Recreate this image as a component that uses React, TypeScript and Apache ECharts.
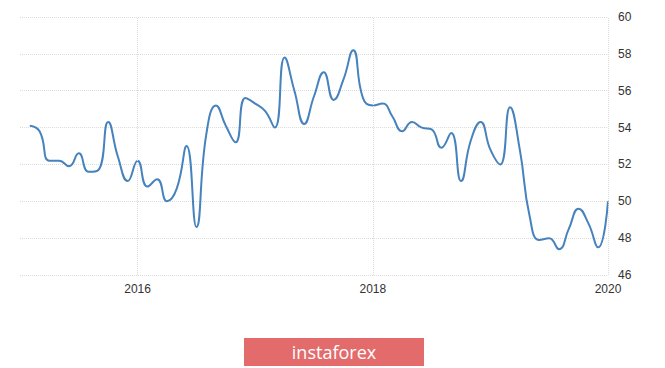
import React, { useEffect, useRef } from "react";
import * as echarts from "echarts";

const months: string[] = [
  "2015-01", "2015-02", "2015-03", "2015-04", "2015-05", "2015-06", "2015-07", "2015-08", "2015-09", "2015-10", "2015-11", "2015-12",
  "2016-01", "2016-02", "2016-03", "2016-04", "2016-05", "2016-06", "2016-07", "2016-08", "2016-09", "2016-10", "2016-11", "2016-12",
  "2017-01", "2017-02", "2017-03", "2017-04", "2017-05", "2017-06", "2017-07", "2017-08", "2017-09", "2017-10", "2017-11", "2017-12",
  "2018-01", "2018-02", "2018-03", "2018-04", "2018-05", "2018-06", "2018-07", "2018-08", "2018-09", "2018-10", "2018-11", "2018-12",
  "2019-01", "2019-02", "2019-03", "2019-04", "2019-05", "2019-06", "2019-07", "2019-08", "2019-09", "2019-10", "2019-11", "2019-12",
];

const values: number[] = [
  54.1, 53.8, 52.2, 52.2, 51.9, 52.6, 51.6, 51.7, 54.3, 52.4, 51.1, 52.2,
  50.8, 51.2, 50.0, 50.7, 53.0, 48.6, 53.6, 55.2, 54.1, 53.2, 55.6, 55.3,
  54.9, 54.0, 57.8, 56.0, 54.2, 55.7, 57.0, 55.5, 56.6, 58.2, 55.6, 55.2,
  55.3, 54.6, 53.8, 54.3, 54.0, 53.9, 52.9, 53.7, 51.1, 53.3, 54.3, 52.8,
  52.0, 55.1, 52.8, 49.2, 47.9, 48.0, 47.4, 48.5, 49.6, 48.8, 47.5, 50.0,
];

const yearTicks: { pos: number; label: string }[] = [
  { pos: 12, label: "2016" },
  { pos: 36, label: "2018" },
  { pos: 60, label: "2020" },
];

const yTicks = { min: 46, max: 60, step: 2 };
const bannerText = "instaforex";

// month-end position: months elapsed since 2015-01-01
function monthPos(m: string): number {
  const [y, mo] = m.split("-").map(Number);
  return (y - 2015) * 12 + mo;
}

export default function App() {
  const ref = useRef<HTMLDivElement>(null);

  useEffect(() => {
    if (!ref.current) return;
    const chart = echarts.init(ref.current, undefined, { renderer: "svg" });
    const data = months.map((m, i) => [monthPos(m), values[i]]);
    const gridColor = "#dcdcdc";
    const labelFont = '"Liberation Sans Narrow", "Liberation Sans", Arial, sans-serif';

    chart.setOption({
      animation: false,
      backgroundColor: "#ffffff",
      grid: {
        left: 20,
        right: 57,
        top: 17,
        bottom: 93,
        containLabel: false,
        outerBoundsMode: "none",
      },
      xAxis: {
        type: "value",
        min: 0,
        max: 60,
        interval: 12,
        axisLine: { show: false },
        axisTick: { show: false },
        splitLine: { show: false },
        axisLabel: {
          margin: 8,
          color: "#333333",
          fontSize: 12,
          fontFamily: labelFont,
          formatter: (v: number) => {
            const t = yearTicks.find((k) => k.pos === v);
            return t ? t.label : "";
          },
        },
      },
      yAxis: {
        type: "value",
        position: "right",
        min: yTicks.min,
        max: yTicks.max,
        interval: yTicks.step,
        axisLine: { show: false },
        axisTick: { show: false },
        axisLabel: {
          margin: 10,
          color: "#333333",
          fontSize: 12,
          fontFamily: labelFont,
        },
        splitLine: {
          show: true,
          lineStyle: { color: gridColor, type: "dotted", width: 1 },
        },
      },
      series: [
        {
          type: "line",
          data,
          smooth: 0.5,
          showSymbol: false,
          symbol: "none",
          lineStyle: { color: "#4682bd", width: 2 },
          markLine: {
            silent: true,
            symbol: "none",
            label: { show: false },
            lineStyle: { color: gridColor, type: "dotted", width: 1 },
            data: yearTicks.map((t) => ({ xAxis: t.pos })),
          },
          z: 3,
        },
      ],
      graphic: [
        {
          type: "rect",
          shape: { x: 244, y: 338, width: 180, height: 28 },
          style: { fill: "#e36b6c" },
        },
        {
          type: "text",
          x: 334,
          y: 352,
          style: {
            text: bannerText,
            fill: "#ffffff",
            fontSize: 18,
            fontFamily: '"Open Sans", "Noto Sans", sans-serif',
            align: "center",
            verticalAlign: "middle",
          },
        },
      ],
    });

    return () => chart.dispose();
  }, []);

  return (
    <div
      ref={ref}
      style={{ position: "fixed", left: 0, top: 0, width: 665, height: 368 }}
    />
  );
}
